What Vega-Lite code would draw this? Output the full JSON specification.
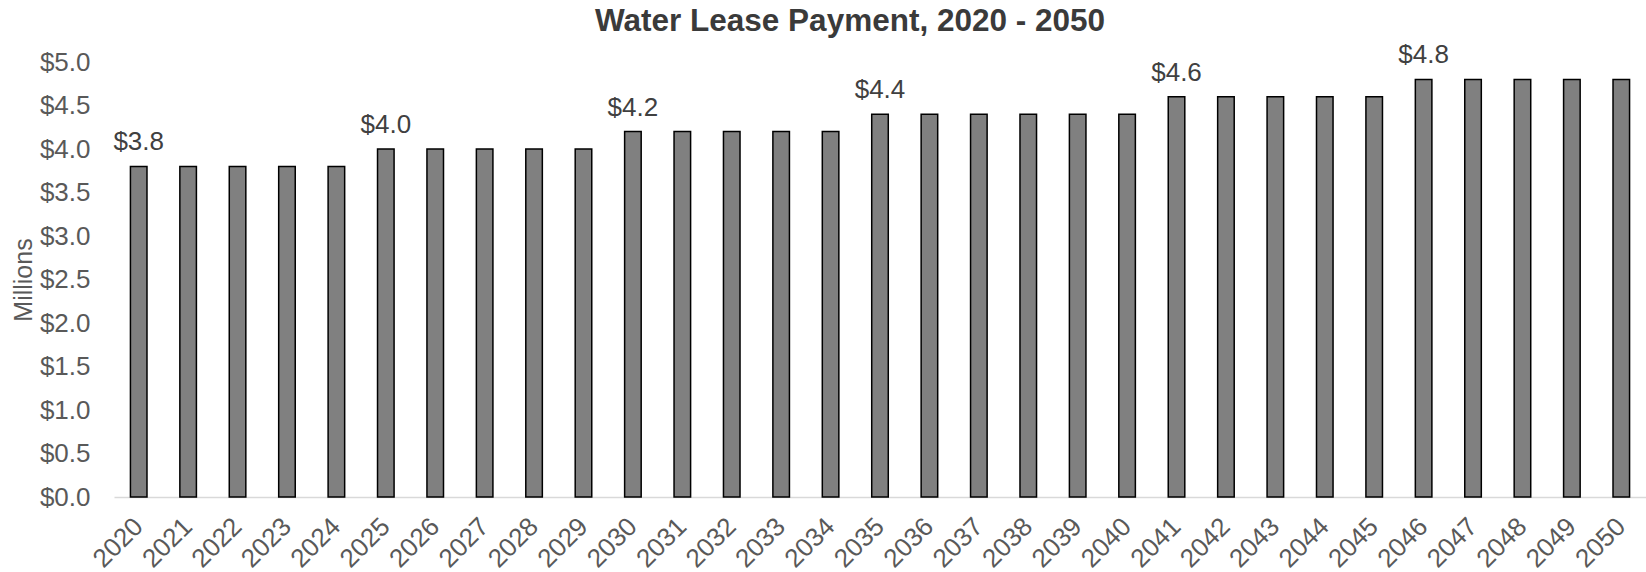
{
  "$schema": "https://vega.github.io/schema/vega-lite/v6.json",
  "width": 1532,
  "height": 435,
  "autosize": {"type": "none"},
  "padding": {"left": 114, "top": 62, "right": 0, "bottom": 75},
  "background": "white",
  "title": {
    "text": "Water Lease Payment, 2020 - 2050",
    "font": "Liberation Sans",
    "fontSize": 31.5,
    "fontWeight": "bold",
    "color": "#3a3a3a",
    "anchor": "middle",
    "dx": -30,
    "offset": 5
  },
  "config": {
    "view": {"stroke": null},
    "font": "Liberation Sans"
  },
  "data": {
    "values": [
      {"year": "2020", "value": 3.8, "label": "$3.8"},
      {"year": "2021", "value": 3.8, "label": ""},
      {"year": "2022", "value": 3.8, "label": ""},
      {"year": "2023", "value": 3.8, "label": ""},
      {"year": "2024", "value": 3.8, "label": ""},
      {"year": "2025", "value": 4.0, "label": "$4.0"},
      {"year": "2026", "value": 4.0, "label": ""},
      {"year": "2027", "value": 4.0, "label": ""},
      {"year": "2028", "value": 4.0, "label": ""},
      {"year": "2029", "value": 4.0, "label": ""},
      {"year": "2030", "value": 4.2, "label": "$4.2"},
      {"year": "2031", "value": 4.2, "label": ""},
      {"year": "2032", "value": 4.2, "label": ""},
      {"year": "2033", "value": 4.2, "label": ""},
      {"year": "2034", "value": 4.2, "label": ""},
      {"year": "2035", "value": 4.4, "label": "$4.4"},
      {"year": "2036", "value": 4.4, "label": ""},
      {"year": "2037", "value": 4.4, "label": ""},
      {"year": "2038", "value": 4.4, "label": ""},
      {"year": "2039", "value": 4.4, "label": ""},
      {"year": "2040", "value": 4.4, "label": ""},
      {"year": "2041", "value": 4.6, "label": "$4.6"},
      {"year": "2042", "value": 4.6, "label": ""},
      {"year": "2043", "value": 4.6, "label": ""},
      {"year": "2044", "value": 4.6, "label": ""},
      {"year": "2045", "value": 4.6, "label": ""},
      {"year": "2046", "value": 4.8, "label": "$4.8"},
      {"year": "2047", "value": 4.8, "label": ""},
      {"year": "2048", "value": 4.8, "label": ""},
      {"year": "2049", "value": 4.8, "label": ""},
      {"year": "2050", "value": 4.8, "label": ""}
    ]
  },
  "encoding": {
    "x": {
      "field": "year",
      "type": "ordinal",
      "scale": {"paddingInner": 0, "paddingOuter": 0},
      "axis": {
        "title": null,
        "labelAngle": -45,
        "labelAlign": "right",
        "labelBaseline": "middle",
        "labelFontSize": 26,
        "labelColor": "#595959",
        "labelPadding": 25,
        "ticks": false,
        "domainColor": "#d9d9d9",
        "domainWidth": 1.5,
        "grid": false
      }
    },
    "y": {
      "field": "value",
      "type": "quantitative",
      "scale": {"domain": [0, 5]},
      "axis": {
        "title": "Millions",
        "titleFontSize": 25,
        "titleFontWeight": "normal",
        "titleColor": "#595959",
        "titlePadding": 3,
        "values": [0, 0.5, 1, 1.5, 2, 2.5, 3, 3.5, 4, 4.5, 5],
        "format": "$.1f",
        "labelFontSize": 26,
        "labelColor": "#595959",
        "labelPadding": 24,
        "ticks": false,
        "domain": false,
        "grid": false
      }
    }
  },
  "layer": [
    {
      "mark": {
        "type": "bar",
        "width": {"band": 0.335},
        "fill": "#808080",
        "stroke": "#000000",
        "strokeWidth": 1.5
      }
    },
    {
      "mark": {
        "type": "text",
        "baseline": "alphabetic",
        "dy": -16,
        "fontSize": 26,
        "color": "#404040"
      },
      "encoding": {
        "text": {"field": "label"}
      }
    }
  ]
}
